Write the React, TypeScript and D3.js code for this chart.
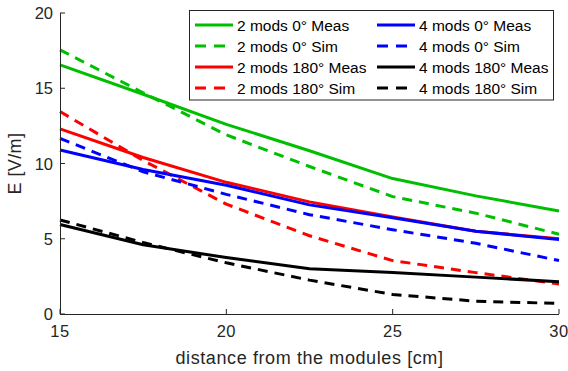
import React from "react";
import * as d3 from "d3";

const distances = [15, 17.5, 20, 22.5, 25, 27.5, 30];
const mods2deg0Meas = [16.55, 14.6, 12.6, 10.85, 9.0, 7.85, 6.85];
const mods2deg0Sim = [17.55, 14.7, 11.9, 9.8, 7.8, 6.7, 5.3];
const mods2deg180Meas = [12.3, 10.4, 8.75, 7.45, 6.45, 5.5, 5.0];
const mods2deg180Sim = [13.45, 10.2, 7.3, 5.2, 3.55, 2.75, 2.0];
const mods4deg0Meas = [10.9, 9.6, 8.55, 7.25, 6.4, 5.5, 4.95];
const mods4deg0Sim = [11.67, 9.45, 7.95, 6.6, 5.6, 4.7, 3.55];
const mods4deg180Meas = [5.95, 4.6, 3.75, 3.0, 2.75, 2.45, 2.15];
const mods4deg180Sim = [6.25, 4.75, 3.4, 2.25, 1.3, 0.85, 0.7];

const xTicks = [15, 20, 25, 30];
const yTicks = [0, 5, 10, 15, 20];

const seriesNames = [
  "2 mods 0° Meas",
  "2 mods 0° Sim",
  "2 mods 180° Meas",
  "2 mods 180° Sim",
  "4 mods 0° Meas",
  "4 mods 0° Sim",
  "4 mods 180° Meas",
  "4 mods 180° Sim",
];
const seriesValues = [
  mods2deg0Meas,
  mods2deg0Sim,
  mods2deg180Meas,
  mods2deg180Sim,
  mods4deg0Meas,
  mods4deg0Sim,
  mods4deg180Meas,
  mods4deg180Sim,
];
const seriesColors = ["#00bf00", "#00bf00", "#ff0000", "#ff0000", "#0000ff", "#0000ff", "#000000", "#000000"];
const seriesDashed = [false, true, false, true, false, true, false, true];

const W = 568;
const H = 371;
const margin = { left: 60, right: 9, top: 13, bottom: 57 };
const axisColor = "#262626";
const font = "'Liberation Sans', Arial, Helvetica, sans-serif";

export default function App() {
  const x = d3.scaleLinear().domain([15, 30]).range([margin.left, W - margin.right]);
  const y = d3.scaleLinear().domain([0, 20]).range([H - margin.bottom, margin.top]);
  const line = d3
    .line<number>()
    .x((_, i) => x(distances[i]))
    .y((d) => y(d));

  const dash = "10,7";
  const legX = 189.5;
  const legY = 10.5;
  const legW = 364;
  const legH = 89.5;
  const rowY = [25, 46, 67, 88];
  const colX = [195, 377];

  return (
    <svg
      width={W}
      height={H}
      style={{ position: "absolute", left: 0, top: 0, background: "#fff" }}
      fontFamily={font}
    >
      <rect x={0} y={0} width={W} height={H} fill="#fff" />
      {seriesValues.map((vals, i) => (
        <path
          key={i}
          d={line(vals) || ""}
          fill="none"
          stroke={seriesColors[i]}
          strokeWidth={3}
          strokeDasharray={seriesDashed[i] ? dash : undefined}
          strokeLinejoin="round"
        />
      ))}
      {/* axes */}
      <line x1={x(15)} x2={x(30)} y1={y(0) + 0.5} y2={y(0) + 0.5} stroke={axisColor} strokeWidth={1} />
      <line x1={x(15) + 0.5} x2={x(15) + 0.5} y1={y(0)} y2={y(20)} stroke={axisColor} strokeWidth={1} />
      {xTicks.map((t) => (
        <g key={"xt" + t}>
          <line x1={x(t)} x2={x(t)} y1={y(0)} y2={y(0) - 5} stroke={axisColor} />
          <text x={x(t)} y={y(0) + 23} textAnchor="middle" fontSize={16.5} letterSpacing={0.5} fill={axisColor}>
            {t}
          </text>
        </g>
      ))}
      {yTicks.map((t) => (
        <g key={"yt" + t}>
          <line x1={x(15)} x2={x(15) + 5} y1={y(t)} y2={y(t)} stroke={axisColor} />
          <text x={x(15) - 7} y={y(t) + 6} textAnchor="end" fontSize={16.5} fill={axisColor}>
            {t}
          </text>
        </g>
      ))}
      <text
        x={(x(15) + x(30)) / 2}
        y={H - 7}
        textAnchor="middle"
        fontSize={18}
        letterSpacing={0.6}
        fill={axisColor}
      >
        distance from the modules [cm]
      </text>
      <text
        transform={`translate(21,${(y(0) + y(20)) / 2}) rotate(-90)`}
        textAnchor="middle"
        fontSize={18}
        letterSpacing={0.4}
        fill={axisColor}
      >
        E [V/m]
      </text>
      {/* legend */}
      <rect x={legX} y={legY} width={legW} height={legH} fill="#fff" stroke={axisColor} strokeWidth={1} />
      {seriesNames.map((name, i) => {
        const col = Math.floor(i / 4);
        const row = i % 4;
        const lx = colX[col];
        const ly = rowY[row];
        return (
          <g key={"lg" + i}>
            <line
              x1={lx}
              x2={lx + 38}
              y1={ly}
              y2={ly}
              stroke={seriesColors[i]}
              strokeWidth={3}
              strokeDasharray={seriesDashed[i] ? "11,8" : undefined}
            />
            <text x={lx + 42} y={ly + 5.5} fontSize={15.5} fill="#000">
              {name}
            </text>
          </g>
        );
      })}
    </svg>
  );
}
